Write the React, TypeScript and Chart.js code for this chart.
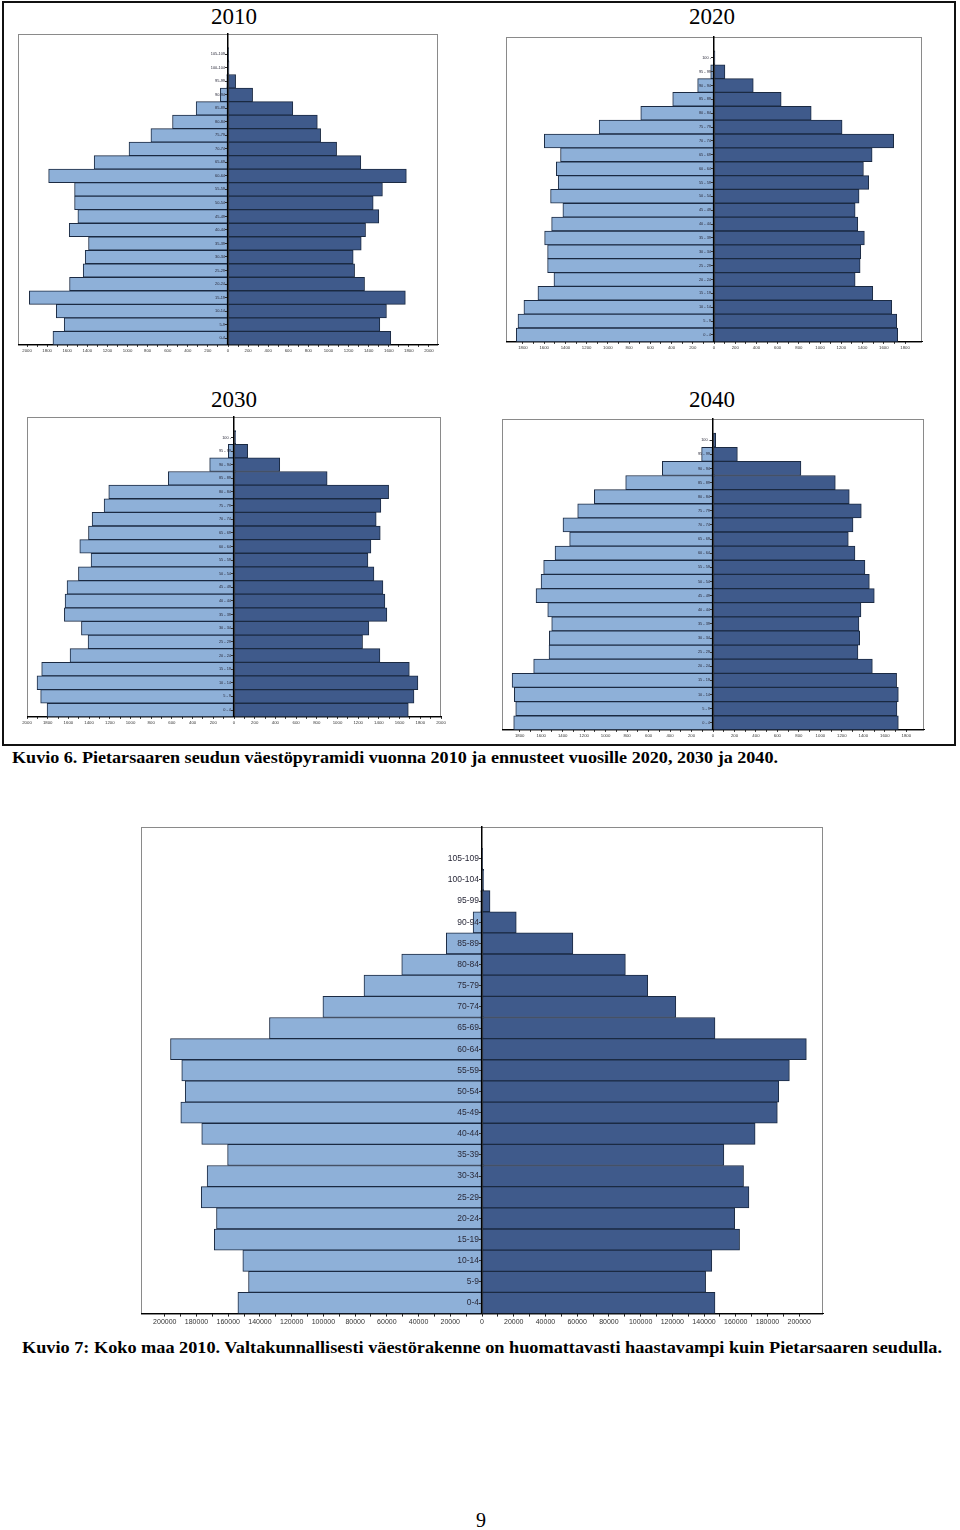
import React, { useEffect, useLayoutEffect, useRef } from 'react';
import { Chart, registerables } from 'chart.js';
Chart.register(...registerables);

// ---------- data ----------
const AGES_2010 = ['105-109', '100-104', '95-99', '90-94', '85-89', '80-84', '75-79', '70-74', '65-69', '60-64', '55-59', '50-54', '45-49', '40-44', '35-39', '30-34', '25-29', '20-24', '15-19', '10-14', '5-9', '0-4'];
const AGES_PROJ = ['100 -', '95 - 99', '90 - 94', '85 - 89', '80 - 84', '75 - 79', '70 - 74', '65 - 69', '60 - 64', '55 - 59', '50 - 54', '45 - 49', '40 - 44', '35 - 39', '30 - 34', '25 - 29', '20 - 24', '15 - 19', '10 - 14', '5 - 9', '0 - 4'];

const LEFT_2010 = [0, 0, 13, 76, 317, 552, 767, 985, 1332, 1785, 1527, 1527, 1494, 1580, 1388, 1421, 1441, 1577, 1977, 1709, 1630, 1742];
const RIGHT_2010 = [3, 10, 76, 245, 645, 889, 922, 1081, 1322, 1775, 1537, 1445, 1501, 1369, 1326, 1246, 1260, 1359, 1765, 1577, 1511, 1620];

const LEFT_2020 = [2, 31, 154, 389, 690, 1082, 1599, 1446, 1486, 1468, 1540, 1424, 1530, 1596, 1568, 1568, 1508, 1659, 1791, 1847, 1863];
const RIGHT_2020 = [9, 103, 370, 633, 916, 1207, 1693, 1490, 1408, 1458, 1367, 1330, 1355, 1417, 1383, 1377, 1330, 1496, 1675, 1722, 1731];

const LEFT_2030 = [3, 55, 235, 635, 1210, 1255, 1371, 1406, 1490, 1381, 1503, 1613, 1632, 1639, 1474, 1410, 1584, 1858, 1903, 1868, 1806];
const RIGHT_2030 = [16, 132, 442, 900, 1494, 1419, 1374, 1413, 1323, 1294, 1352, 1439, 1458, 1477, 1303, 1242, 1410, 1694, 1777, 1739, 1684];

const LEFT_2040 = [5, 106, 472, 813, 1105, 1260, 1397, 1335, 1471, 1577, 1601, 1648, 1539, 1502, 1524, 1527, 1670, 1871, 1850, 1837, 1856];
const RIGHT_2040 = [25, 227, 819, 1139, 1269, 1381, 1304, 1260, 1322, 1415, 1456, 1502, 1378, 1359, 1366, 1350, 1484, 1710, 1726, 1713, 1726];

const LEFT_FIN = [30, 300, 840, 5600, 22500, 50600, 74400, 100300, 134000, 196400, 189300, 187100, 189900, 176700, 160400, 173300, 177000, 167400, 168800, 150800, 147200, 153900];
const RIGHT_FIN = [100, 1100, 5060, 21600, 57300, 90400, 104500, 122200, 146900, 204500, 193800, 187100, 186200, 172200, 152500, 164900, 168300, 159300, 162400, 144900, 141000, 146900];

const TICKS_2000 = [-2000, -1800, -1600, -1400, -1200, -1000, -800, -600, -400, -200, 0, 200, 400, 600, 800, 1000, 1200, 1400, 1600, 1800, 2000];
const TICKS_1800 = [-1800, -1600, -1400, -1200, -1000, -800, -600, -400, -200, 0, 200, 400, 600, 800, 1000, 1200, 1400, 1600, 1800];
const TICKS_FIN = [-200000, -180000, -160000, -140000, -120000, -100000, -80000, -60000, -40000, -20000, 0, 20000, 40000, 60000, 80000, 100000, 120000, 140000, 160000, 180000, 200000];

// ---------- styles ----------
const LIGHT = '#8eb0d8';
const DARK = '#3f5a8b';
const EDGE = '#1b2a42';
const FRAME = '#8a8a8a';

const framePlugin = {
  id: 'plotFrame',
  beforeDraw(chart: any) {
    const a = chart.chartArea;
    const ctx = chart.ctx;
    ctx.save();
    ctx.strokeStyle = FRAME;
    ctx.lineWidth = 1;
    ctx.strokeRect(Math.round(a.left) + 0.5, Math.round(a.top) + 0.5, Math.round(a.right - a.left) - 1, Math.round(a.bottom - a.top));
    ctx.restore();
  },
};

type PyrProps = {
  labels: string[];
  left: number[];
  right: number[];
  ticks: number[];
  minorStep: number;
  range: number;
  plot: { x: number; y: number; w: number; h: number };
  yFont: number;
  xFont: number;
  tickLen: number;
};

function Pyramid(p: PyrProps) {
  const ref = useRef<HTMLCanvasElement>(null);
  const padL = 12, padR = 12, padT = 4, padB = 4;
  const xPad = 1;
  const axisH = p.tickLen + xPad + p.xFont * 1.2;
  const cw = p.plot.w + padL + padR;
  const ch = Math.round(p.plot.h + padT + axisH + padB);

  useEffect(() => {
    const labels = [''].concat(p.labels);
    const leftData = [null as any].concat(p.left.map((v) => -v));
    const rightData = [null as any].concat(p.right);
    const allTicks: number[] = [];
    const maxT = p.ticks[p.ticks.length - 1];
    for (let v = -maxT; v <= maxT + 0.001; v += p.minorStep) allTicks.push(Math.round(v));
    const major = new Set(p.ticks);
    const chart = new Chart(ref.current as HTMLCanvasElement, {
      type: 'bar',
      data: {
        labels,
        datasets: [
          { data: leftData, backgroundColor: LIGHT, borderColor: EDGE, borderWidth: 1, borderSkipped: false, categoryPercentage: 1, barPercentage: 1 },
          { data: rightData, backgroundColor: DARK, borderColor: EDGE, borderWidth: 1, borderSkipped: false, categoryPercentage: 1, barPercentage: 1 },
        ],
      },
      options: {
        indexAxis: 'y',
        animation: false,
        responsive: false,
        maintainAspectRatio: false,
        events: [],
        layout: { padding: { left: padL, right: padR, top: padT, bottom: padB } },
        plugins: { legend: { display: false }, tooltip: { enabled: false } },
        scales: {
          x: {
            type: 'linear',
            stacked: true,
            min: -p.range,
            max: p.range,
            afterBuildTicks: (s: any) => {
              s.ticks = allTicks.map((v) => ({ value: v }));
            },
            ticks: {
              autoSkip: false,
              maxRotation: 0,
              padding: xPad,
              color: '#333',
              font: { family: 'Liberation Sans, Arial, sans-serif', size: p.xFont },
              callback: (v: any) => (major.has(Number(v)) ? String(Math.abs(Number(v))) : ''),
            },
            grid: { drawOnChartArea: false, drawTicks: true, tickLength: p.tickLen, color: '#222' },
            border: { color: '#000', width: 1 },
          },
          y: {
            type: 'category',
            stacked: true,
            position: 'center',
            ticks: {
              autoSkip: false,
              padding: 1,
              z: 1,
              color: '#2a2a3a',
              font: { family: 'Liberation Sans, Arial, sans-serif', size: p.yFont },
            },
            grid: {
              offset: false,
              drawOnChartArea: false,
              drawTicks: true,
              z: 1,
              tickLength: Math.max(2, p.tickLen - 1),
              color: (c: any) => (c.index === 0 ? 'rgba(0,0,0,0)' : '#333'),
            },
            border: { color: '#000', width: 1.5, z: 2 } as any,
          },
        },
      } as any,
      plugins: [framePlugin],
    });
    return () => chart.destroy();
  }, []);

  return (
    <canvas
      ref={ref}
      width={cw}
      height={ch}
      style={{ position: 'absolute', left: p.plot.x - padL, top: p.plot.y - padT, width: cw, height: ch }}
    />
  );
}

function FitText(props: { text: string; left: number; top: number; width: number; font: string }) {
  const ref = useRef<HTMLDivElement>(null);
  useLayoutEffect(() => {
    const el = ref.current as HTMLDivElement;
    el.style.transform = 'none';
    const w = el.getBoundingClientRect().width;
    if (w > 0) el.style.transform = `scaleX(${props.width / w})`;
  }, []);
  return (
    <div
      ref={ref}
      style={{ position: 'absolute', left: props.left, top: props.top, whiteSpace: 'nowrap', transformOrigin: 'left top', font: props.font, color: '#000', display: 'inline-block', lineHeight: '20px' }}
    >
      {props.text}
    </div>
  );
}

const titleStyle = (cx: number, cy: number): React.CSSProperties => ({
  position: 'absolute',
  left: cx - 60,
  width: 120,
  top: cy - 14,
  height: 28,
  lineHeight: '28px',
  textAlign: 'center',
  fontFamily: 'Liberation Serif, serif',
  fontSize: 23,
  color: '#000',
});

export default function App() {
  return (
    <div style={{ position: 'absolute', left: 0, top: 0, width: 960, height: 1530, background: '#fff', overflow: 'hidden' }}>
      <div style={{ position: 'absolute', left: 2, top: 1, width: 954, height: 745, border: '2px solid #111', boxSizing: 'border-box' }} />
      <div style={titleStyle(234, 17)}>2010</div>
      <div style={titleStyle(712, 17)}>2020</div>
      <div style={titleStyle(234, 400)}>2030</div>
      <div style={titleStyle(712, 400)}>2040</div>

      <Pyramid labels={AGES_2010} left={LEFT_2010} right={RIGHT_2010} ticks={TICKS_2000} minorStep={100} range={2090}
        plot={{ x: 18, y: 34, w: 420, h: 312 }} yFont={3.9} xFont={4.3} tickLen={2} />
      <Pyramid labels={AGES_PROJ} left={LEFT_2020} right={RIGHT_2020} ticks={TICKS_1800} minorStep={100} range={1960}
        plot={{ x: 506, y: 37, w: 416, h: 306 }} yFont={3.9} xFont={4.3} tickLen={2} />
      <Pyramid labels={AGES_PROJ} left={LEFT_2030} right={RIGHT_2030} ticks={TICKS_2000} minorStep={100} range={2000}
        plot={{ x: 27, y: 417, w: 414, h: 301 }} yFont={3.9} xFont={4.3} tickLen={2} />
      <Pyramid labels={AGES_PROJ} left={LEFT_2040} right={RIGHT_2040} ticks={TICKS_1800} minorStep={100} range={1965}
        plot={{ x: 502, y: 419, w: 422, h: 312 }} yFont={3.9} xFont={4.3} tickLen={2} />

      <FitText text="Kuvio 6. Pietarsaaren seudun väestöpyramidi vuonna 2010 ja ennusteet vuosille 2020, 2030 ja 2040."
        left={12} top={748} width={766} font="bold 17px 'Liberation Serif', serif" />

      <Pyramid labels={AGES_2010} left={LEFT_FIN} right={RIGHT_FIN} ticks={TICKS_FIN} minorStep={10000} range={215000}
        plot={{ x: 141, y: 825, w: 682, h: 490 }} yFont={8.5} xFont={7} tickLen={3} />

      <FitText text="Kuvio 7: Koko maa 2010. Valtakunnallisesti väestörakenne on huomattavasti haastavampi kuin Pietarsaaren seudulla."
        left={22} top={1338} width={920} font="bold 17px 'Liberation Serif', serif" />

      <div style={{ position: 'absolute', left: 461, width: 40, top: 1508, height: 24, lineHeight: '24px', textAlign: 'center', fontFamily: 'Liberation Serif, serif', fontSize: 20 }}>9</div>
    </div>
  );
}
